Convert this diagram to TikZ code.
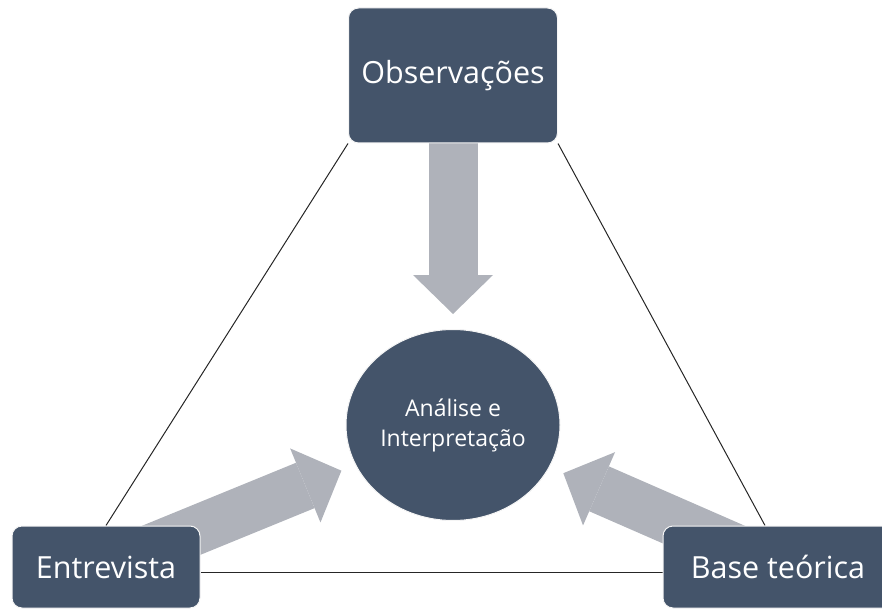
\documentclass[tikz,border=0pt]{standalone}
\usepackage{fontspec}
\setmainfont{Open Sans}
\usetikzlibrary{shapes.geometric, arrows.meta, backgrounds}
\definecolor{boxblue}{HTML}{44546A}
\definecolor{flowgray}{HTML}{AFB2BA}

\begin{document}
\begin{tikzpicture}[x=1pt, y=-1pt,
box/.style={rectangle, rounded corners=10pt, fill=boxblue, draw=white!92!gray, line width=1pt, text=white, font=\fontsize{30.5}{36}\selectfont, inner sep=0pt},
hub/.style={ellipse, fill=boxblue, draw=white!92!gray, line width=1pt, text=white, align=center, font=\fontsize{23}{30}\selectfont, minimum width=214pt, minimum height=191pt, inner sep=0pt},
link/.style={black!85, line width=1pt},
flow/.style={flowgray, line width=49pt, -{Triangle[length=39pt, width=80pt, line width=0pt]}, shorten >=15pt}]
\useasboundingbox (0,0) rectangle (882,609);

%Sources
\node[box, minimum width=209pt, minimum height=135pt] (obs) at (453,75.5) {Observações};
\node[box, minimum width=188pt, minimum height=82pt] (ent) at (106,567) {Entrevista};
\node[box, minimum width=230pt, minimum height=82pt] (base) at (778,567) {Base teórica};

%Centre
\node[hub] (ana) at (453,425) {Análise e\\Interpretação};

\begin{scope}[on background layer]
%Triangle
\draw[link] (obs.south west) -- (ent.north);
\draw[link] (obs.south east) -- ([xshift=-13pt]base.north);
\draw[link] ([yshift=-5pt]ent.east) -- ([yshift=-5pt]base.west);

%Flows
\draw[flow] (obs) -- (ana);
\draw[flow] (ent.center) -- (ana);
\draw[flow] (base.center) -- (ana);
\end{scope}
\end{tikzpicture}
\end{document}
